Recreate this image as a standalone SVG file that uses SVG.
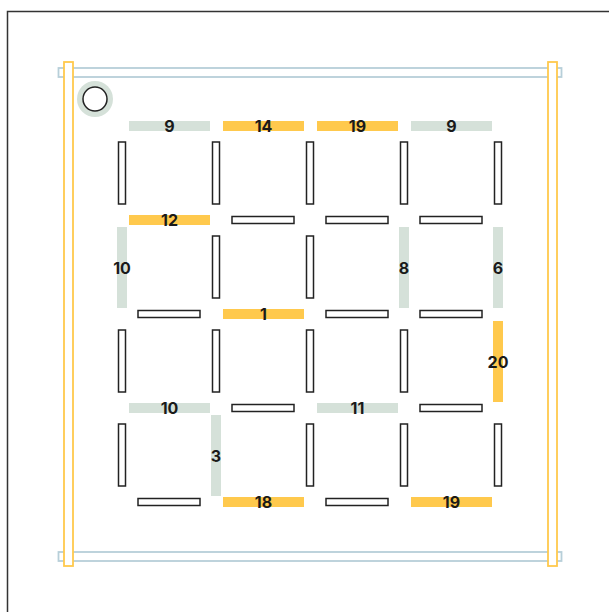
<svg xmlns="http://www.w3.org/2000/svg" width="609" height="612" viewBox="0 0 609 612">
<style>
.frame{fill:none;stroke:#333;stroke-width:1.5}
.rail{fill:#fff;stroke:#b7cfd9;stroke-width:1.8}
.post{fill:#fff;stroke:#ffc94d;stroke-width:1.8}
.wall{fill:#fff;stroke:#222;stroke-width:1.5}
.g{fill:#d5e1d9}
.o{fill:#ffc94d}
.t{font-family:Inter,"Liberation Sans",sans-serif;font-weight:700;font-size:16px;fill:#1a1a1a;text-anchor:middle;dominant-baseline:central}
</style>
<rect class="frame" x="7.5" y="11.5" width="620" height="620"/>
<g id="rails">
<rect class="rail" x="58.5" y="68" width="503" height="9"/>
<rect class="rail" x="58.5" y="552" width="503" height="9"/>
<rect class="post" x="64" y="62" width="9" height="504"/>
<rect class="post" x="548" y="62" width="9" height="504"/>
</g>
<g id="start">
<circle cx="95" cy="99" r="18" class="g"/>
<circle cx="95" cy="99" r="12" fill="#fff" stroke="#222" stroke-width="1.5"/>
</g>
<g id="walls">
<!-- horizontal outline walls -->
<rect class="wall" x="232" y="216.5" width="62" height="7"/>
<rect class="wall" x="326" y="216.5" width="62" height="7"/>
<rect class="wall" x="420" y="216.5" width="62" height="7"/>
<rect class="wall" x="138" y="310.5" width="62" height="7"/>
<rect class="wall" x="326" y="310.5" width="62" height="7"/>
<rect class="wall" x="420" y="310.5" width="62" height="7"/>
<rect class="wall" x="232" y="404.5" width="62" height="7"/>
<rect class="wall" x="420" y="404.5" width="62" height="7"/>
<rect class="wall" x="138" y="498.5" width="62" height="7"/>
<rect class="wall" x="326" y="498.5" width="62" height="7"/>
<!-- vertical outline walls -->
<rect class="wall" x="118.5" y="142" width="7" height="62"/>
<rect class="wall" x="212.5" y="142" width="7" height="62"/>
<rect class="wall" x="306.5" y="142" width="7" height="62"/>
<rect class="wall" x="400.5" y="142" width="7" height="62"/>
<rect class="wall" x="494.5" y="142" width="7" height="62"/>
<rect class="wall" x="212.5" y="236" width="7" height="62"/>
<rect class="wall" x="306.5" y="236" width="7" height="62"/>
<rect class="wall" x="118.5" y="330" width="7" height="62"/>
<rect class="wall" x="212.5" y="330" width="7" height="62"/>
<rect class="wall" x="306.5" y="330" width="7" height="62"/>
<rect class="wall" x="400.5" y="330" width="7" height="62"/>
<rect class="wall" x="118.5" y="424" width="7" height="62"/>
<rect class="wall" x="306.5" y="424" width="7" height="62"/>
<rect class="wall" x="400.5" y="424" width="7" height="62"/>
<rect class="wall" x="494.5" y="424" width="7" height="62"/>
</g>
<g id="edges">
<g id="e-top-0"><rect class="g" x="129" y="121" width="81" height="10"/><text class="t" x="169.5" y="126">9</text></g>
<g id="e-top-1"><rect class="o" x="223" y="121" width="81" height="10"/><text class="t" x="263.5" y="126">14</text></g>
<g id="e-top-2"><rect class="o" x="317" y="121" width="81" height="10"/><text class="t" x="357.5" y="126">19</text></g>
<g id="e-top-3"><rect class="g" x="411" y="121" width="81" height="10"/><text class="t" x="451.5" y="126">9</text></g>
<g id="e-r1-0"><rect class="o" x="129" y="215" width="81" height="10"/><text class="t" x="169.5" y="220">12</text></g>
<g id="e-r2-1"><rect class="o" x="223" y="309" width="81" height="10"/><text class="t" x="263.5" y="314">1</text></g>
<g id="e-r3-0"><rect class="g" x="129" y="403" width="81" height="10"/><text class="t" x="169.5" y="408">10</text></g>
<g id="e-r3-2"><rect class="g" x="317" y="403" width="81" height="10"/><text class="t" x="357.5" y="408">11</text></g>
<g id="e-r4-1"><rect class="o" x="223" y="497" width="81" height="10"/><text class="t" x="263.5" y="502">18</text></g>
<g id="e-r4-3"><rect class="o" x="411" y="497" width="81" height="10"/><text class="t" x="451.5" y="502">19</text></g>
<g id="e-v1-0"><rect class="g" x="117" y="227" width="10" height="81"/><text class="t" x="122" y="267.5">10</text></g>
<g id="e-v1-3"><rect class="g" x="399" y="227" width="10" height="81"/><text class="t" x="404" y="267.5">8</text></g>
<g id="e-v1-4"><rect class="g" x="493" y="227" width="10" height="81"/><text class="t" x="498" y="267.5">6</text></g>
<g id="e-v2-4"><rect class="o" x="493" y="321" width="10" height="81"/><text class="t" x="498" y="361.5">20</text></g>
<g id="e-v3-1"><rect class="g" x="211" y="415" width="10" height="81"/><text class="t" x="216" y="455.5">3</text></g>
</g>
</svg>
